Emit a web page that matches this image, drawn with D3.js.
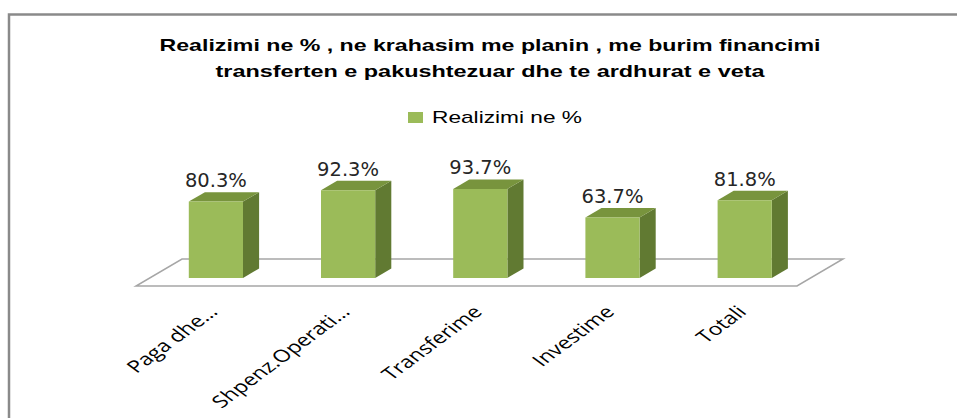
<!DOCTYPE html>
<html>
<head>
<meta charset="utf-8">
<script src="https://cdn.jsdelivr.net/npm/d3@7"></script>
<style>
  body { margin: 0; background: #fff; }
  svg { display: block; }
</style>
</head>
<body>
<svg width="957" height="418"></svg>
<script>
// chart data
var categories = ["Paga dhe…", "Shpenz.Operati…", "Transferime", "Investime", "Totali"];
var values = [80.3, 92.3, 93.7, 63.7, 81.8];
var seriesName = "Realizimi ne %";
var titleLines = ["Realizimi ne % , ne krahasim me planin , me burim financimi",
                  "transferten e pakushtezuar dhe te ardhurat e veta"];

var svg = d3.select("svg");

// outer frame of the chart (right and bottom go off the picture)
svg.append("rect")
  .attr("x", 9).attr("y", 14.5)
  .attr("width", 1000).attr("height", 500)
  .attr("fill", "#fff")
  .attr("stroke", "#8a8a8a")
  .attr("stroke-width", 2.5);

// title
var titleW = [661, 549];
svg.selectAll(".title")
  .data(titleLines)
  .enter().append("text")
  .attr("class", "title")
  .attr("x", 490)
  .attr("y", function(d, i) { return 51 + i * 26; })
  .attr("text-anchor", "middle")
  .attr("textLength", function(d, i) { return titleW[i]; })
  .attr("lengthAdjust", "spacingAndGlyphs")
  .style("font-family", "Liberation Sans, Arial, sans-serif")
  .style("font-weight", "bold")
  .style("font-size", "17px")
  .attr("fill", "#000")
  .text(function(d) { return d; });

// legend
var green = "#9BBB59", greenTop = "#78943D", greenSide = "#617A32";
svg.append("rect")
  .attr("x", 408).attr("y", 112)
  .attr("width", 15).attr("height", 11)
  .attr("fill", green);
svg.append("text")
  .attr("x", 432).attr("y", 123)
  .attr("textLength", 150)
  .attr("lengthAdjust", "spacingAndGlyphs")
  .style("font-family", "Liberation Sans, Arial, sans-serif")
  .style("font-size", "17px")
  .attr("fill", "#000")
  .text(seriesName);

// 3d projection: floor front edge at y=286, depth goes up-right
var floorY = 286, depthX = 46, depthY = 27;
var x = d3.scaleBand().domain(categories).range([136, 797]);
var h = d3.scaleLinear().domain([0, 100]).range([0, 95]);
function proj(px, ph, z) {
  return [px + z * depthX, floorY - ph - z * depthY];
}
function poly(pts) {
  return pts.map(function(p) { return p.join(","); }).join(" ");
}

// floor
svg.append("polygon")
  .attr("points", poly([proj(136, 0, 0), proj(797, 0, 0), proj(797, 0, 1), proj(136, 0, 1)]))
  .attr("fill", "#fff")
  .attr("stroke", "#a6a6a6")
  .attr("stroke-width", 1.5);

var zf = 0.3, zb = 0.65;
var barW = x.bandwidth() * 0.41;

var bars = svg.selectAll(".bar")
  .data(values)
  .enter().append("g")
  .attr("class", "bar");

bars.each(function(v, i) {
  var g = d3.select(this);
  var x0 = x(categories[i]) + (x.bandwidth() - barW) / 2;
  var x1 = x0 + barW;
  var hv = h(v);
  // side
  g.append("polygon")
    .attr("points", poly([proj(x1, 0, zf), proj(x1, hv, zf), proj(x1, hv, zb), proj(x1, 0, zb)]))
    .attr("fill", greenSide);
  // top
  g.append("polygon")
    .attr("points", poly([proj(x0, hv, zf), proj(x1, hv, zf), proj(x1, hv, zb), proj(x0, hv, zb)]))
    .attr("fill", greenTop);
  // front
  g.append("polygon")
    .attr("points", poly([proj(x0, 0, zf), proj(x1, 0, zf), proj(x1, hv, zf), proj(x0, hv, zf)]))
    .attr("fill", green);
  // value label
  var c = proj((x0 + x1) / 2, hv, zb);
  g.append("text")
    .attr("x", proj((x0 + x1) / 2, 0, zf)[0])
    .attr("y", c[1] - 5)
    .attr("text-anchor", "middle")
    .style("font-family", "DejaVu Sans, Verdana, sans-serif")
    .style("font-size", "19.5px")
    .attr("fill", "#262626")
    .text(d3.format(".1f")(v) + "%");
});

// category labels, rotated 45 deg in a horizontally stretched frame
svg.selectAll(".cat")
  .data(categories)
  .enter().append("text")
  .attr("class", "cat")
  .attr("transform", function(d) {
    var p = proj(x(d) + x.bandwidth() / 2, 0, zf);
    return "translate(" + (p[0] + 3) + "," + 313 + ") scale(1.35,1) rotate(-45)";
  })
  .attr("text-anchor", "end")
  .style("font-family", "Open Sans, sans-serif")
  .style("font-size", "17px")
  .attr("fill", "#000")
  .text(function(d) { return d; });
</script>
</body>
</html>
